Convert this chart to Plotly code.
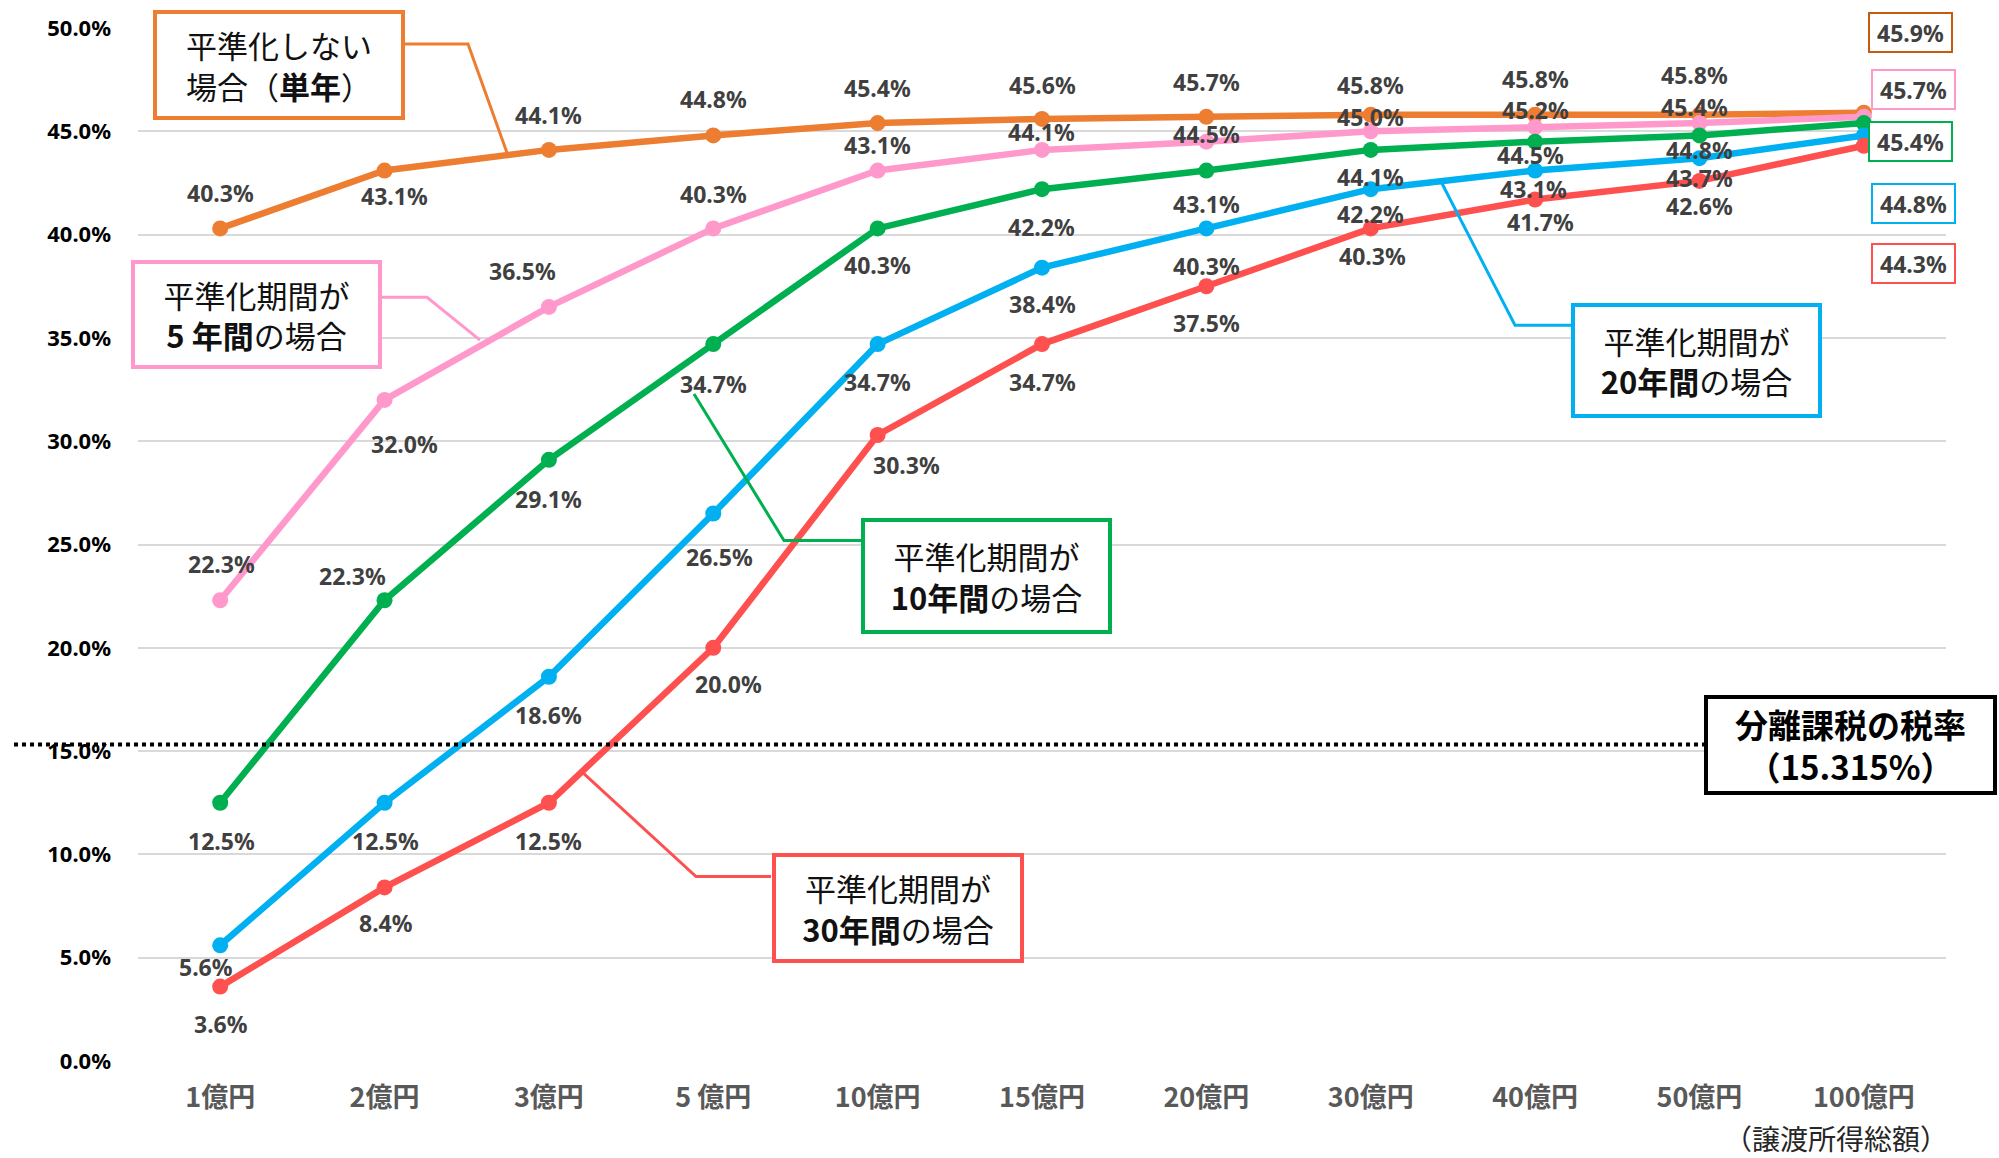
import plotly.graph_objects as go

# ---- data -------------------------------------------------------------
categories = ["1億円", "2億円", "3億円", "5 億円", "10億円", "15億円",
              "20億円", "30億円", "40億円", "50億円", "100億円"]

rate_single = [40.3, 43.1, 44.1, 44.8, 45.4, 45.6, 45.7, 45.8, 45.8, 45.8, 45.9]
rate_5y = [22.3, 32.0, 36.5, 40.3, 43.1, 44.1, 44.5, 45.0, 45.2, 45.4, 45.7]
rate_10y = [12.5, 22.3, 29.1, 34.7, 40.3, 42.2, 43.1, 44.1, 44.5, 44.8, 45.4]
rate_20y = [5.6, 12.5, 18.6, 26.5, 34.7, 38.4, 40.3, 42.2, 43.1, 43.7, 44.8]
rate_30y = [3.6, 8.4, 12.5, 20.0, 30.3, 34.7, 37.5, 40.3, 41.7, 42.6, 44.3]

separate_tax_rate = 15.315

# ---- styling ----------------------------------------------------------
W, H = 1999, 1158
M_L, M_R, M_T, M_B = 138, 53, 25, 97
PLOT_W = W - M_L - M_R
PLOT_H = H - M_T - M_B

NUM_FONT = "Noto Sans, Noto Sans CJK JP"
JP_FONT = "Noto Sans CJK JP"
LABEL_GRAY = "#404040"

series = [
    dict(name="平準化しない場合（単年）", y=rate_single, color="#ED7D31", box="#C55A11"),
    dict(name="平準化期間が5年間の場合", y=rate_5y, color="#FF99CC", box="#FF99CC"),
    dict(name="平準化期間が10年間の場合", y=rate_10y, color="#00B050", box="#00B050"),
    dict(name="平準化期間が20年間の場合", y=rate_20y, color="#00B0F0", box="#00B0F0"),
    dict(name="平準化期間が30年間の場合", y=rate_30y, color="#FF5050", box="#FF5050"),
]

# pixel offsets (dx, dy; dy positive = downwards) of each value label from its point
label_offsets = [
    [(0, -35), (10, 25), (0, -35), (0, -36), (0, -35), (0, -34), (0, -35), (0, -30), (0, -36), (-5, -40), (47, -80)],
    [(1, -36), (20, 44), (-26, -36), (0, -34), (0, -26), (-1, -18), (0, -8), (0, -14), (0, -17), (-5, -16), (50, -27)],
    [(1, 38), (-32, -24), (0, 39), (0, 40), (0, 37), (-1, 38), (0, 33), (0, 27), (-5, 13), (0, 15), (47, 18)],
    [(-14, 22), (1, 38), (0, 38), (6, 43), (0, 38), (0, 36), (0, 38), (0, 25), (-2, 18), (0, 20), (50, 68)],
    [(1, 37), (1, 36), (0, 38), (15, 36), (29, 30), (0, 38), (0, 37), (2, 28), (5, 23), (0, 25), (50, 118)],
]


def px(x):
    """page pixel x -> paper fraction"""
    return (x - M_L) / PLOT_W


def py(y):
    """page pixel y -> paper fraction"""
    return (H - M_B - y) / PLOT_H


fig = go.Figure()

for s in series:
    fig.add_trace(go.Scatter(
        x=categories, y=s["y"], name=s["name"], mode="lines+markers",
        line=dict(color=s["color"], width=6.5),
        marker=dict(color=s["color"], size=16),
        hoverinfo="skip",
    ))

annotations = []
for s, offs in zip(series, label_offsets):
    last = len(categories) - 1
    for i, (cat, v) in enumerate(zip(categories, s["y"])):
        dx, dy = offs[i]
        ann = dict(
            x=cat, y=v, xref="x", yref="y", text=f"{v:.1f}%", showarrow=False,
            xshift=dx, yshift=-dy, xanchor="center", yanchor="middle",
            font=dict(family=NUM_FONT, size=23, color=LABEL_GRAY, weight="bold"),
        )
        if i == last:
            ann.update(bordercolor=s["box"], borderwidth=2, borderpad=2,
                       bgcolor="white", width=77, height=33)
        annotations.append(ann)

# callout boxes: (text, colour, centre px, outer size px, connector polyline px)
callouts = [
    ("平準化しない<br>場合（<b>単年</b>）", "#ED7D31", (279, 62), (252, 110),
     [(405, 41), (468, 41), (507, 150)]),
    ("平準化期間が<br><b>5 年間</b>の場合", "#FF99CC", (256.5, 312.5), (251, 109),
     [(382, 295), (427, 295), (480, 338)]),
    ("平準化期間が<br><b>10年間</b>の場合", "#00B050", (986.5, 575), (251, 116),
     [(861, 539), (784, 539), (694, 392)]),
    ("平準化期間が<br><b>20年間</b>の場合", "#00B0F0", (1696.5, 358.5), (251, 115),
     [(1571, 323), (1515, 323), (1442, 181)]),
    ("平準化期間が<br><b>30年間</b>の場合", "#FF5050", (898, 908), (252, 110),
     [(771, 876), (696, 876), (583, 772)]),
]

shapes = []
for text, col, (cx, cy), (ow, oh), pts in callouts:
    path = "M " + " L ".join(f"{px(x):.5f},{py(y):.5f}" for x, y in pts)
    shapes.append(dict(type="path", xref="paper", yref="paper", path=path,
                       line=dict(color=col, width=3), layer="above"))
    annotations.append(dict(
        x=px(cx), y=py(cy), xref="paper", yref="paper", text=text,
        showarrow=False, xanchor="center", yanchor="middle", align="center",
        bordercolor=col, borderwidth=4, borderpad=2, bgcolor="white",
        width=ow - 12, height=oh - 12,
        font=dict(family=JP_FONT, size=31, color="#111111"),
    ))

# separate-taxation rate reference line and its box
shapes.append(dict(type="line", xref="paper", yref="y",
                   x0=px(14), x1=px(1704), y0=separate_tax_rate, y1=separate_tax_rate,
                   line=dict(color="black", width=4, dash="dot"), layer="above"))
annotations.append(dict(
    x=px(1850.5), y=separate_tax_rate, xref="paper", yref="y",
    text=f"分離課税の税率<br>（{separate_tax_rate:.3f}%）",
    showarrow=False, xanchor="center", yanchor="middle", align="center",
    bordercolor="black", borderwidth=4, borderpad=2, bgcolor="white",
    width=281, height=88,
    font=dict(family=JP_FONT, size=33, color="black", weight="bold"),
))

# x-axis caption
annotations.append(dict(
    x=px(1950), y=py(1138), xref="paper", yref="paper", text="（譲渡所得総額）",
    showarrow=False, xanchor="right", yanchor="middle",
    font=dict(family=JP_FONT, size=28, color="#262626"),
))

fig.update_layout(
    width=W, height=H,
    margin=dict(l=M_L, r=M_R, t=M_T, b=M_B, pad=0),
    plot_bgcolor="white", paper_bgcolor="white",
    showlegend=False,
    annotations=annotations,
    shapes=shapes,
    xaxis=dict(
        type="category", range=[-0.5, len(categories) - 0.5],
        showgrid=False, showline=False, zeroline=False,
        ticks="", ticklabelstandoff=18,
        tickfont=dict(family=JP_FONT, size=27, color="#595959", weight="bold"),
    ),
    yaxis=dict(
        range=[0, 50], dtick=5, tickformat=".1f", ticksuffix="%",
        showgrid=True, gridcolor="#D9D9D9", gridwidth=2,
        zeroline=False, showline=False, ticks="", ticklabelstandoff=26,
        tickfont=dict(family=NUM_FONT, size=22, color="black", weight="bold"),
    ),
)

fig.write_html("out.html")
